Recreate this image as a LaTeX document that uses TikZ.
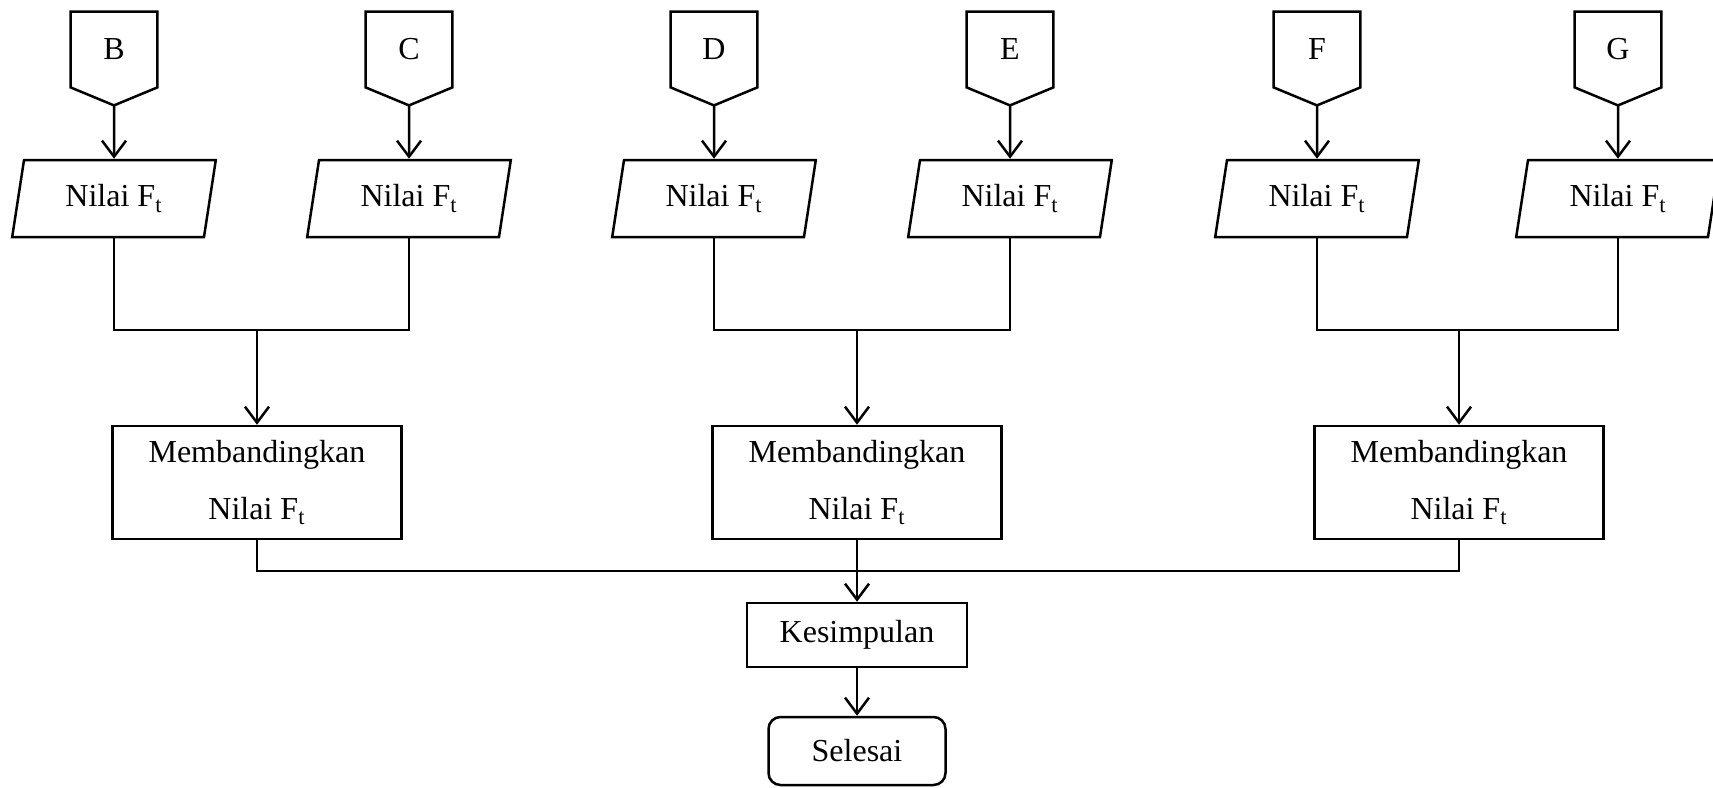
\documentclass[tikz,border=0pt]{standalone}
\usepackage{fontspec}
\setmainfont{Liberation Serif}
\usetikzlibrary{shapes.geometric}
\usetikzlibrary{arrows.meta}
\usetikzlibrary{positioning}

\tikzset{
    every node/.style={font=\fontsize{16}{28.5}\selectfont},
    line/.style={line width=1.25pt},
    arr/.style={line width=1.25pt, -{Straight Barb[length=8pt,width=12pt,line width=1.25pt]}},
    offpage/.style={minimum width=43pt, minimum height=37.5pt, inner sep=0pt},
    inbox/.style={draw, line width=1.25pt, shape=trapezium, trapezium left angle=77,
        trapezium right angle=103, trapezium stretches=true,
        minimum width=102pt, minimum height=38.5pt, inner sep=0pt},
    procbox/.style={draw, line width=1.25pt, minimum width=144.5pt, minimum height=56.5pt,
        align=center, inner sep=0pt},
}

\begin{document}
\begin{tikzpicture}[x=0.5pt, y=-0.5pt]
    \useasboundingbox (0,0) rectangle (1713,787);
    \foreach \n/\x in {B/114, C/409, D/714, E/1010, F/1317, G/1618} {
        \node[offpage] (c\n) at (\x,49.5) {\n};
        \coordinate (t\n) at ([yshift=-9pt]c\n.south);
        \draw[line] (c\n.north west) -- (c\n.north east) -- (c\n.south east)
            -- (t\n) -- (c\n.south west) -- cycle;
        \node[inbox] (p\n) at (\x,198.5) {Nilai F\textsubscript{t}};
        \draw[arr] (t\n) -- (p\n.north);
    }
    % gabungan tiap pasangan
    \coordinate (jBC) at (257,330);
    \coordinate (jDE) at (857,330);
    \coordinate (jFG) at (1459,330);
    \draw[line] (pB.south) |- (jBC) -| (pC.south);
    \draw[line] (pD.south) |- (jDE) -| (pE.south);
    \draw[line] (pF.south) |- (jFG) -| (pG.south);
    \node[procbox] (m1) at (257,482.5) {Membandingkan\\Nilai F\textsubscript{t}};
    \node[procbox] (m2) at (857,482.5) {Membandingkan\\Nilai F\textsubscript{t}};
    \node[procbox] (m3) at (1459,482.5) {Membandingkan\\Nilai F\textsubscript{t}};
    \draw[arr] (jBC) -- (m1.north);
    \draw[arr] (jDE) -- (m2.north);
    \draw[arr] (jFG) -- (m3.north);
    \node[draw, line width=1.25pt, minimum width=110pt, minimum height=32pt] (kes) at (857,635) {Kesimpulan};
    \node[draw, line width=1.25pt, rounded corners=6pt, minimum width=88.5pt, minimum height=34pt] (sel) at (857,751) {Selesai};
    \coordinate (bot) at (857,571);
    \draw[line] (m1.south) |- (bot) -| (m3.south);
    \draw[arr] (m2.south) -- (kes.north);
    \draw[arr] (kes.south) -- (sel.north);
\end{tikzpicture}
\end{document}
